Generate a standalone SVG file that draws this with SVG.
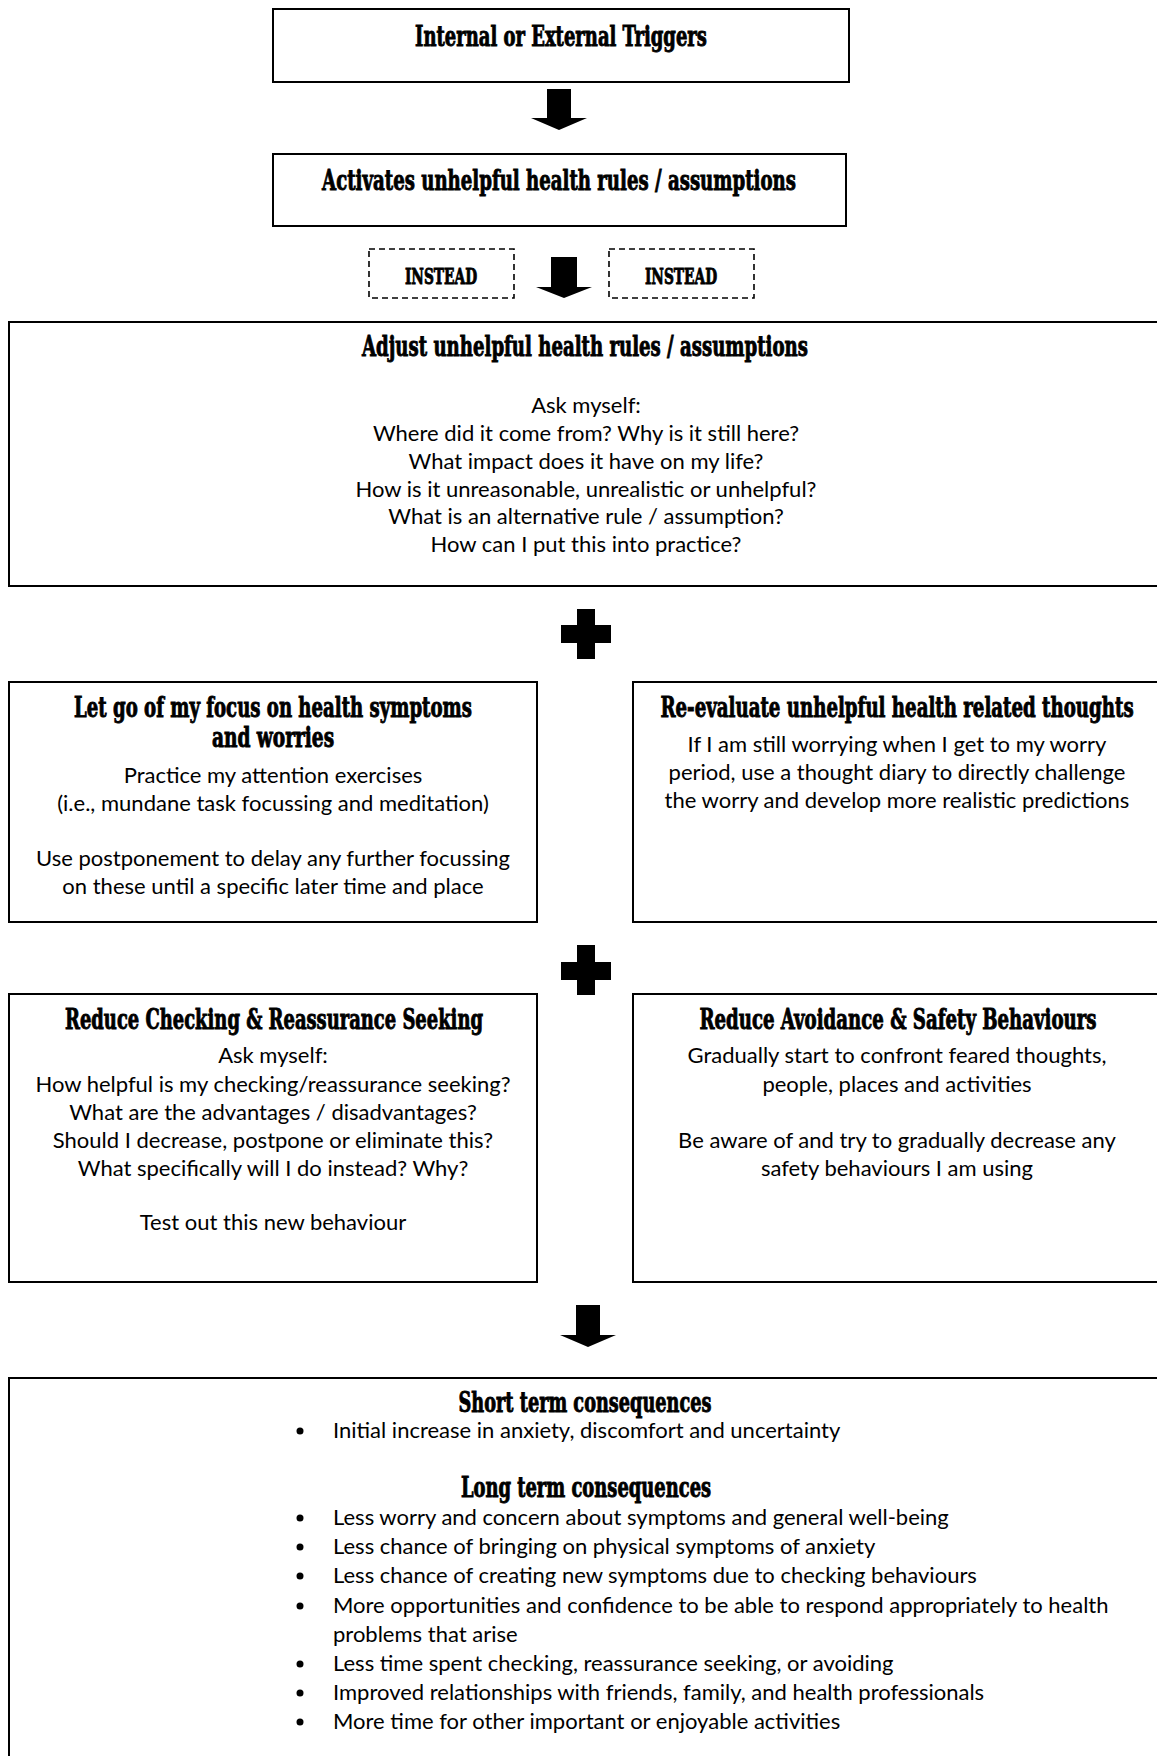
<svg xmlns="http://www.w3.org/2000/svg" width="1157" height="1756" viewBox="0 0 1157 1756">
<style>
.box{fill:#fff;stroke:#000;stroke-width:2}
.dash{fill:#fff;stroke:#000;stroke-width:1.6;stroke-dasharray:6 4}
.t{font-family:"DejaVu Serif Condensed","DejaVu Serif","Liberation Serif",serif;font-weight:bold;font-size:28px;text-anchor:middle;fill:#000;stroke:#000;stroke-width:0.9}
.ti{font-size:23px}
.b{font-family:Lato,"Open Sans","Liberation Sans",sans-serif;font-size:22px;text-anchor:middle;fill:#000}
.l{text-anchor:start}
.blk{fill:#000}
</style>
<rect width="1157" height="1756" fill="#fff"/>
<g id="triggers">
<rect class="box" x="273" y="9" width="576" height="73"/>
<text class="t" transform="translate(561,46) scale(0.65,1)" textLength="449" lengthAdjust="spacingAndGlyphs">Internal or External Triggers</text>
</g>
<g id="activates">
<rect class="box" x="273" y="154" width="573" height="72"/>
<text class="t" transform="translate(559,190) scale(0.65,1)" textLength="729" lengthAdjust="spacingAndGlyphs">Activates unhelpful health rules / assumptions</text>
</g>
<g id="instead-left">
<rect class="dash" x="369" y="249" width="145" height="49"/>
<text class="t ti" transform="translate(441,284) scale(0.65,1)" textLength="111" lengthAdjust="spacingAndGlyphs">INSTEAD</text>
</g>
<g id="instead-right">
<rect class="dash" x="609" y="249" width="145" height="49"/>
<text class="t ti" transform="translate(681,284) scale(0.65,1)" textLength="111" lengthAdjust="spacingAndGlyphs">INSTEAD</text>
</g>
<g id="adjust">
<rect class="box" x="9" y="322" width="1152" height="264"/>
<text class="t" transform="translate(585,356) scale(0.65,1)" textLength="686" lengthAdjust="spacingAndGlyphs">Adjust unhelpful health rules / assumptions</text>
<text class="b" x="586" y="413">Ask myself:</text>
<text class="b" x="586" y="441">Where did it come from? Why is it still here?</text>
<text class="b" x="586" y="469">What impact does it have on my life?</text>
<text class="b" x="586" y="497">How is it unreasonable, unrealistic or unhelpful?</text>
<text class="b" x="586" y="524">What is an alternative rule / assumption?</text>
<text class="b" x="586" y="552">How can I put this into practice?</text>
</g>
<g id="let-go">
<rect class="box" x="9" y="682" width="528" height="240"/>
<text class="t" transform="translate(273,717) scale(0.65,1)" textLength="612" lengthAdjust="spacingAndGlyphs">Let go of my focus on health symptoms</text>
<text class="t" transform="translate(273,747) scale(0.65,1)" textLength="188" lengthAdjust="spacingAndGlyphs">and worries</text>
<text class="b" x="273" y="783">Practice my attention exercises</text>
<text class="b" x="273" y="811">(i.e., mundane task focussing and meditation)</text>
<text class="b" x="273" y="866">Use postponement to delay any further focussing</text>
<text class="b" x="273" y="894">on these until a specific later time and place</text>
</g>
<g id="re-evaluate">
<rect class="box" x="633" y="682" width="528" height="240"/>
<text class="t" transform="translate(897,717) scale(0.65,1)" textLength="728" lengthAdjust="spacingAndGlyphs">Re-evaluate unhelpful health related thoughts</text>
<text class="b" x="897" y="752">If I am still worrying when I get to my worry</text>
<text class="b" x="897" y="780">period, use a thought diary to directly challenge</text>
<text class="b" x="897" y="808">the worry and develop more realistic predictions</text>
</g>
<g id="reduce-checking">
<rect class="box" x="9" y="994" width="528" height="288"/>
<text class="t" transform="translate(274,1029) scale(0.65,1)" textLength="643" lengthAdjust="spacingAndGlyphs">Reduce Checking &amp; Reassurance Seeking</text>
<text class="b" x="273" y="1063">Ask myself:</text>
<text class="b" x="273" y="1092">How helpful is my checking/reassurance seeking?</text>
<text class="b" x="273" y="1120">What are the advantages / disadvantages?</text>
<text class="b" x="273" y="1148">Should I decrease, postpone or eliminate this?</text>
<text class="b" x="273" y="1176">What specifically will I do instead? Why?</text>
<text class="b" x="273" y="1230">Test out this new behaviour</text>
</g>
<g id="reduce-avoidance">
<rect class="box" x="633" y="994" width="528" height="288"/>
<text class="t" transform="translate(898,1029) scale(0.65,1)" textLength="611" lengthAdjust="spacingAndGlyphs">Reduce Avoidance &amp; Safety Behaviours</text>
<text class="b" x="897" y="1063">Gradually start to confront feared thoughts,</text>
<text class="b" x="897" y="1092">people, places and activities</text>
<text class="b" x="897" y="1148">Be aware of and try to gradually decrease any</text>
<text class="b" x="897" y="1176">safety behaviours I am using</text>
</g>
<g id="consequences">
<rect class="box" x="9" y="1378" width="1152" height="400"/>
<text class="t" transform="translate(585,1412) scale(0.65,1)" textLength="389" lengthAdjust="spacingAndGlyphs">Short term consequences</text>
<circle class="blk" cx="300" cy="1431" r="3.5"/>
<text class="b l" x="333" y="1438">Initial increase in anxiety, discomfort and uncertainty</text>
<text class="t" transform="translate(586,1497) scale(0.65,1)" textLength="385" lengthAdjust="spacingAndGlyphs">Long term consequences</text>
<circle class="blk" cx="300" cy="1518" r="3.5"/>
<text class="b l" x="333" y="1525">Less worry and concern about symptoms and general well-being</text>
<circle class="blk" cx="300" cy="1547" r="3.5"/>
<text class="b l" x="333" y="1554">Less chance of bringing on physical symptoms of anxiety</text>
<circle class="blk" cx="300" cy="1576" r="3.5"/>
<text class="b l" x="333" y="1583">Less chance of creating new symptoms due to checking behaviours</text>
<circle class="blk" cx="300" cy="1606" r="3.5"/>
<text class="b l" x="333" y="1613">More opportunities and confidence to be able to respond appropriately to health</text>
<text class="b l" x="333" y="1642">problems that arise</text>
<circle class="blk" cx="300" cy="1664" r="3.5"/>
<text class="b l" x="333" y="1671">Less time spent checking, reassurance seeking, or avoiding</text>
<circle class="blk" cx="300" cy="1693" r="3.5"/>
<text class="b l" x="333" y="1700">Improved relationships with friends, family, and health professionals</text>
<circle class="blk" cx="300" cy="1722" r="3.5"/>
<text class="b l" x="333" y="1729">More time for other important or enjoyable activities</text>
</g>
<g id="connectors">
<path class="blk" d="M547,89 H571 V118 H587 L559,130 L531,118 H547 Z"/>
<path class="blk" d="M551,257 H577 V287 H592 L564,298 L536,287 H551 Z"/>
<path class="blk" d="M576,1305 H600 V1335 H616 L588,1347 L560,1335 H576 Z"/>
<path class="blk" d="M577,609 H595 V625 H611 V643 H595 V659 H577 V643 H561 V625 H577 Z"/>
<path class="blk" d="M577,945 H595 V962 H611 V980 H595 V995 H577 V980 H561 V962 H577 Z"/>
</g>
</svg>
